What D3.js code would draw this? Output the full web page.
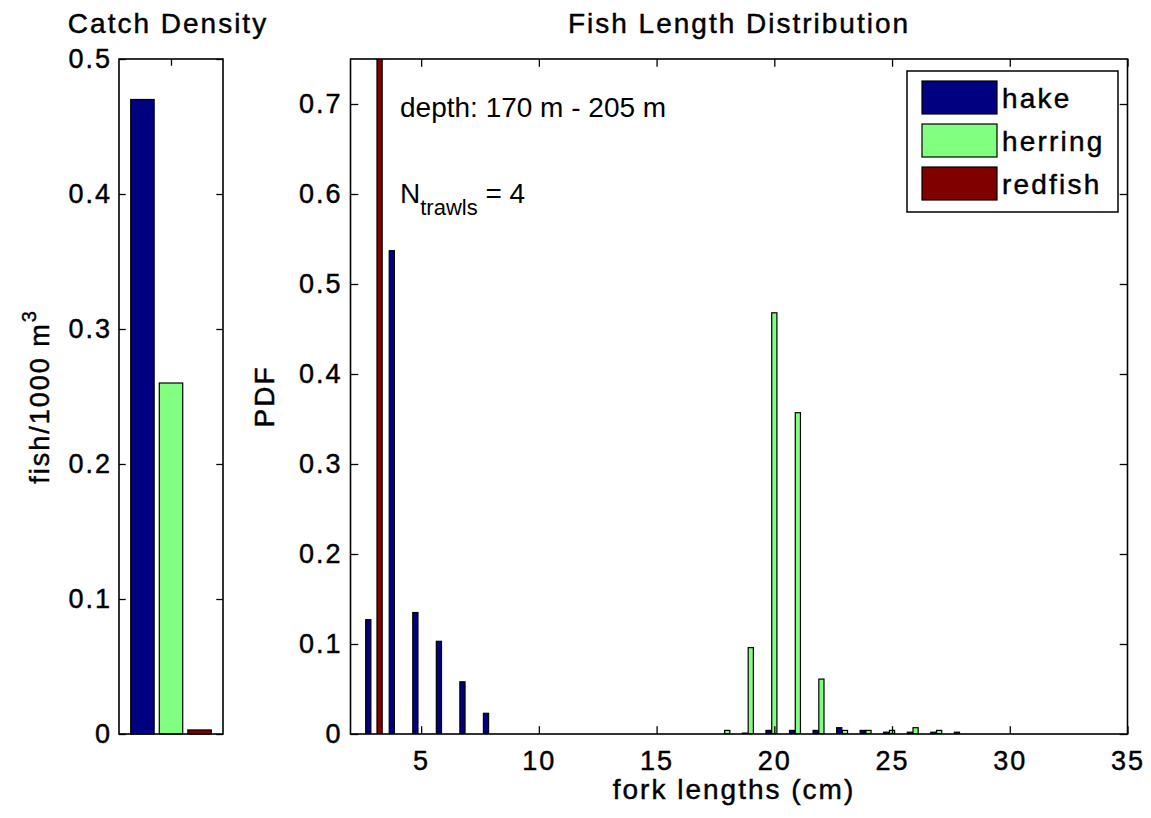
<!DOCTYPE html>
<html>
<head>
<meta charset="utf-8">
<script src="https://cdn.jsdelivr.net/npm/d3@7"></script>
<style>
  html, body { margin: 0; padding: 0; background: #fff; }
  svg { display: block; }
  text { font-family: "Liberation Sans", Arial, Helvetica, sans-serif; fill: #000; }
  text.heavy { stroke: #000; stroke-width: 0.45px; }
</style>
</head>
<body>
<svg id="fig" width="1151" height="818"></svg>
<script>
// ---- catch density panel ----
const species = ["hake", "herring", "redfish"];
const speciesColors = ["#000080", "#80ff80", "#800000"];
const catchDensity = [0.47, 0.26, 0.003];
const densityTicks = [0, 0.1, 0.2, 0.3, 0.4, 0.5];
const densityTickLabels = ["0", "0.1", "0.2", "0.3", "0.4", "0.5"];

// ---- length distribution panel (PDF per 1 cm bin) ----
const forkLengths = [3, 4, 5, 6, 7, 8, 18, 19, 20, 21, 22, 23, 24, 25, 26, 27, 28];
const hakePdf    = [0.127, 0.537, 0.135, 0.103, 0.058, 0.023, 0, 0.001, 0.004, 0.004, 0.004, 0.007, 0.004, 0.002, 0.002, 0.002, 0.002];
const herringPdf = [0, 0, 0, 0, 0, 0, 0.004, 0.096, 0.468, 0.357, 0.061, 0.004, 0.004, 0.004, 0.007, 0.004, 0];
const redfishPdf = [1.0, 0, 0, 0, 0, 0, 0, 0, 0, 0, 0, 0, 0, 0, 0, 0, 0];
const lengthTicks = [5, 10, 15, 20, 25, 30, 35];
const lengthTickLabels = ["5", "10", "15", "20", "25", "30", "35"];
const pdfTicks = [0, 0.1, 0.2, 0.3, 0.4, 0.5, 0.6, 0.7];
const pdfTickLabels = ["0", "0.1", "0.2", "0.3", "0.4", "0.5", "0.6", "0.7"];

const depthNote = "depth: 170 m - 205 m";
const trawlCount = 4;

const svg = d3.select("#fig");
const FS = 27, LS = 2;       // axis text size and tracking

const yTop = 59, yBot = 734;

// ================= left panel =================
const L = { x0: 119, x1: 223 };
const lx = d3.scaleLinear().domain([0.18, 3.82]).range([L.x0, L.x1]);
const ly = d3.scaleLinear().domain([0, 0.5]).range([yBot, yTop]);
const lTick = 6.7;

const gl = svg.append("g");
gl.append("rect").attr("x", L.x0).attr("y", yTop).attr("width", L.x1 - L.x0).attr("height", yBot - yTop)
  .attr("fill", "#fff");

const lBarW = 0.82;
gl.selectAll("rect.cd").data(catchDensity).join("rect")
  .attr("class", "cd")
  .attr("x", (d, i) => lx(i + 1 - lBarW / 2))
  .attr("width", (d, i) => lx(i + 1 + lBarW / 2) - lx(i + 1 - lBarW / 2))
  .attr("y", d => ly(d))
  .attr("height", d => ly(0) - ly(d))
  .attr("fill", (d, i) => speciesColors[i])
  .attr("stroke", "#000").attr("stroke-width", 1.2);

// y axis with inward ticks, mirrored on the right
const lyAxis = d3.axisLeft(ly).tickValues(densityTicks)
  .tickFormat((d, i) => densityTickLabels[i]).tickSize(-lTick).tickPadding(7);
const lyg = gl.append("g").attr("transform", `translate(${L.x0},0)`).call(lyAxis);
const lyAxisR = d3.axisRight(ly).tickValues(densityTicks).tickFormat("").tickSize(-lTick);
const lygR = gl.append("g").attr("transform", `translate(${L.x1},0)`).call(lyAxisR);
// single centre tick on the top edge
const lxAxisT = d3.axisTop(lx).tickValues([2]).tickFormat("").tickSize(-lTick);
const lxgT = gl.append("g").attr("transform", `translate(0,${yTop})`).call(lxAxisT);

[lyg, lygR, lxgT].forEach(g => {
  g.select(".domain").remove();
  g.selectAll(".tick line").attr("stroke", "#000").attr("stroke-width", 1.3);
  g.selectAll("text").attr("class", "heavy").attr("font-size", FS).attr("letter-spacing", LS).attr("fill", "#000");
});
gl.append("rect").attr("x", L.x0).attr("y", yTop).attr("width", L.x1 - L.x0).attr("height", yBot - yTop)
  .attr("fill", "none").attr("stroke", "#000").attr("stroke-width", 1.6);

gl.append("text").attr("class", "heavy").attr("x", 168).attr("y", 33).attr("text-anchor", "middle")
  .attr("font-size", FS + 1).attr("letter-spacing", LS).text("Catch Density");

const lyl = gl.append("text").attr("class", "heavy")
  .attr("transform", `translate(49,${(yTop + yBot) / 2}) rotate(-90)`)
  .attr("text-anchor", "middle").attr("font-size", FS).attr("letter-spacing", LS);
lyl.append("tspan").text("fish/1000 m");
lyl.append("tspan").attr("dy", -13).attr("font-size", 20).text("3");

// ================= main panel =================
const M = { x0: 350.5, x1: 1127.5 };
const x = d3.scaleLinear().domain([2, 35]).range([M.x0, M.x1]);
const y = d3.scaleLinear().domain([0, 0.75]).range([yBot, yTop]);
const mTick = 7.8;

const gm = svg.append("g");
svg.append("defs").append("clipPath").attr("id", "plotClip")
  .append("rect").attr("x", M.x0).attr("y", yTop).attr("width", M.x1 - M.x0).attr("height", yBot - yTop);

const seriesPdf = [hakePdf, herringPdf, redfishPdf];
const groupOffset = [-0.245, 0, 0.235];
const barW = 0.22;

const bars = [];
seriesPdf.forEach((vals, s) => {
  vals.forEach((v, i) => { if (v > 0) bars.push({ s, len: forkLengths[i], v }); });
});

gm.append("g").attr("clip-path", "url(#plotClip)")
  .selectAll("rect").data(bars).join("rect")
  .attr("x", d => x(d.len + groupOffset[d.s] - barW / 2))
  .attr("width", d => x(d.len + groupOffset[d.s] + barW / 2) - x(d.len + groupOffset[d.s] - barW / 2))
  .attr("y", d => y(d.v))
  .attr("height", d => y(0) - y(d.v))
  .attr("fill", d => speciesColors[d.s])
  .attr("stroke", "#000").attr("stroke-width", 1.2);

const xAxisB = d3.axisBottom(x).tickValues(lengthTicks)
  .tickFormat((d, i) => lengthTickLabels[i]).tickSize(-mTick).tickPadding(17);
const xgB = gm.append("g").attr("transform", `translate(0,${yBot})`).call(xAxisB);
const xAxisT = d3.axisTop(x).tickValues(lengthTicks).tickFormat("").tickSize(-mTick);
const xgT = gm.append("g").attr("transform", `translate(0,${yTop})`).call(xAxisT);
const yAxisL = d3.axisLeft(y).tickValues(pdfTicks)
  .tickFormat((d, i) => pdfTickLabels[i]).tickSize(-mTick).tickPadding(8);
const ygL = gm.append("g").attr("transform", `translate(${M.x0},0)`).call(yAxisL);
const yAxisR = d3.axisRight(y).tickValues(pdfTicks).tickFormat("").tickSize(-mTick);
const ygR = gm.append("g").attr("transform", `translate(${M.x1},0)`).call(yAxisR);

[xgB, xgT, ygL, ygR].forEach(g => {
  g.select(".domain").remove();
  g.selectAll(".tick line").attr("stroke", "#000").attr("stroke-width", 1.3);
  g.selectAll("text").attr("class", "heavy").attr("font-size", FS).attr("letter-spacing", LS).attr("fill", "#000");
});

gm.append("rect").attr("x", M.x0).attr("y", yTop).attr("width", M.x1 - M.x0).attr("height", yBot - yTop)
  .attr("fill", "none").attr("stroke", "#000").attr("stroke-width", 1.6);

gm.append("text").attr("class", "heavy").attr("x", (M.x0 + M.x1) / 2).attr("y", 33).attr("text-anchor", "middle")
  .attr("font-size", FS + 1).attr("letter-spacing", LS).text("Fish Length Distribution");
gm.append("text").attr("class", "heavy").attr("x", 734).attr("y", 799).attr("text-anchor", "middle")
  .attr("font-size", FS + 1).attr("letter-spacing", LS).text("fork lengths (cm)");
gm.append("text").attr("class", "heavy").attr("transform", `translate(274,${(yTop + yBot) / 2}) rotate(-90)`)
  .attr("text-anchor", "middle").attr("font-size", FS + 1).attr("letter-spacing", LS).text("PDF");

// annotations
gm.append("text").attr("x", 400).attr("y", 117).attr("font-size", 28).attr("fill", "#3a3a3a")
  .text(depthNote);
const nt = gm.append("text").attr("x", 400).attr("y", 203).attr("font-size", 28).attr("fill", "#3a3a3a");
nt.append("tspan").text("N");
nt.append("tspan").attr("dy", 12).attr("font-size", 22).text("trawls");
nt.append("tspan").attr("dy", -12).attr("font-size", 28).text(" = " + trawlCount);

// legend
const lg = gm.append("g");
lg.append("rect").attr("x", 907).attr("y", 71).attr("width", 211).attr("height", 141)
  .attr("fill", "#fff").attr("stroke", "#000").attr("stroke-width", 1.5);
const rows = lg.selectAll("g.row").data(species).join("g").attr("class", "row")
  .attr("transform", (d, i) => `translate(0,${81 + i * 43})`);
rows.append("rect").attr("x", 922).attr("y", 0).attr("width", 75).attr("height", 33)
  .attr("fill", (d, i) => speciesColors[i]).attr("stroke", "#000").attr("stroke-width", 1.2);
rows.append("text").attr("class", "heavy").attr("x", 1002).attr("y", 27).attr("font-size", FS + 1).attr("letter-spacing", 2.2)
  .text(d => d);
</script>
</body>
</html>
